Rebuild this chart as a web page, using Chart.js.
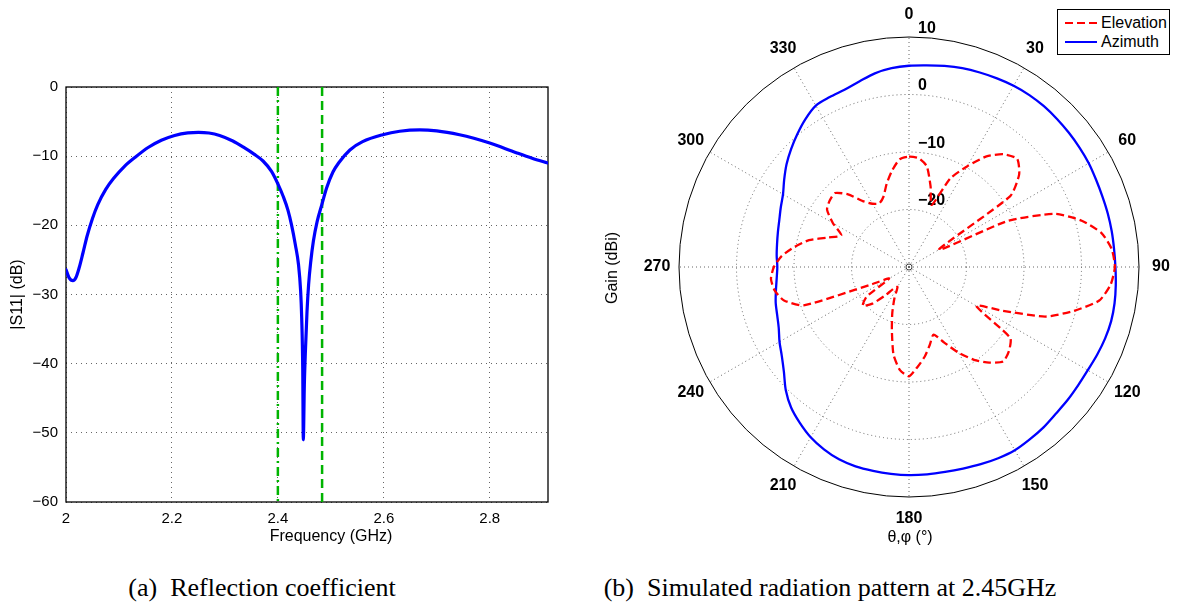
<!DOCTYPE html>
<html>
<head>
<meta charset="utf-8">
<script src="https://cdn.jsdelivr.net/npm/chart.js@4.4.1/dist/chart.umd.min.js"></script>
<style>
  body { margin: 0; background: #fff; width: 1180px; height: 605px; position: relative; overflow: hidden;
         font-family: "Liberation Sans", Arial, sans-serif; color: #000; }
  #s11Box { position: absolute; left: 0; top: 60px; width: 570px; height: 500px; }
  #patternBox { position: absolute; left: 600px; top: 0; width: 580px; height: 560px; }
  .axisTitle { position: absolute; font-size: 16px; white-space: nowrap; transform: translate(-50%, -50%); }
  #gainTitle { transform: translate(-50%, -50%) rotate(-90deg); }
  .caption { position: absolute; top: 575px; font-family: "Liberation Serif", serif; font-size: 26px;
             line-height: 26px; white-space: nowrap; transform: translateX(-50%); }
  #legend { position: absolute; left: 1057px; top: 9px; width: 111px; height: 44px; border: 1px solid #000;
            background: #fff; font-size: 16px; }
  #legend .row { position: absolute; left: 6px; height: 20px; display: flex; align-items: center; }
  #legend svg { margin-right: 3px; }
</style>
</head>
<body>
<div id="s11Box"><canvas id="s11Chart"></canvas></div>
<div id="patternBox"><canvas id="patternChart"></canvas></div>
<div class="axisTitle" style="left:331px;top:536px">Frequency (GHz)</div>
<div class="axisTitle" id="gainTitle" style="left:612px;top:268px">Gain (dBi)</div>
<div class="axisTitle" style="left:910px;top:537px">θ,φ (°)</div>
<div id="legend"></div>
<div class="caption" style="left:262px">(a)&nbsp; Reflection coefficient</div>
<div class="caption" style="left:830px">(b)&nbsp; Simulated radiation pattern at 2.45GHz</div>

<script>
// Reflection coefficient (left)
const freqGHz = [2.000, 2.006, 2.013, 2.019, 2.025, 2.032, 2.040, 2.050, 2.060, 2.075, 2.090, 2.110, 2.130,
  2.155, 2.180, 2.205, 2.230, 2.250, 2.270, 2.290, 2.315, 2.335, 2.355, 2.372, 2.388, 2.400, 2.410, 2.419,
  2.426, 2.433, 2.439, 2.443, 2.445, 2.447, 2.448, 2.450, 2.452, 2.455, 2.458, 2.462, 2.467, 2.474, 2.483,
  2.492, 2.504, 2.515, 2.536, 2.560, 2.598, 2.630, 2.668, 2.700, 2.743, 2.770, 2.800, 2.850, 2.880, 2.910];
const s11dB = [-26.4, -27.6, -28.0, -27.5, -26.1, -24.0, -21.5, -19.0, -17.0, -14.8, -13.2, -11.5, -10.2,
  -8.75, -7.7, -7.0, -6.62, -6.55, -6.65, -7.0, -7.8, -8.7, -9.7, -10.7, -12.2, -14.0, -15.8, -17.8,
  -20.0, -22.8, -25.7, -29.5, -33.4, -41.0, -51.0, -43.0, -38.2, -32.5, -28.6, -25.3, -22.3, -19.5, -17.0,
  -14.6, -12.3, -10.95, -9.1, -7.9, -6.9, -6.4, -6.2, -6.35, -6.9, -7.4, -8.1, -9.5, -10.3, -11.0];
const bandEdgesGHz = [2.4, 2.4835];
const s11Range = [-60, 0];

// Radiation pattern (right), one value every 5 degrees from 0 to 355
const elevationDBi = [-10.8, -11.0, -12.2, -15.5, -18.5, -13.0, -9.8, -6.5, -4.4, -3.4, -5.0, -8.5,
  -24.0, -11.0, -3.0, 1.1, 4.0, 5.4, 5.8, 5.2, 3.6, -0.4, -4.8, -12.0,
  -16.5, -8.5, -7.3, -6.8, -8.3, -10.3, -12.8, -15.5, -17.5, -16.0, -14.2, -12.6,
  -11.0, -12.0, -14.5, -18.5, -21.5, -24.0, -26.0, -25.5, -23.5, -21.0, -19.5, -21.0,
  -26.0, -23.0, -10.5, -7.5, -6.3, -5.9, -6.5, -7.8, -9.8, -12.0, -15.0, -17.0,
  -14.7, -12.6, -12.0, -11.8, -13.5, -16.0, -17.3, -17.8, -17.0, -15.0, -13.0, -11.2];
const azimuthDBi = [5.0, 5.2, 5.5, 5.8, 6.0, 6.2, 6.4, 6.5, 6.5, 6.4, 6.3, 6.2,
  6.1, 5.9, 5.8, 5.8, 5.8, 5.8, 5.9, 6.1, 6.3, 6.4, 6.3, 6.1,
  5.9, 5.9, 6.0, 6.1, 6.4, 6.6, 6.8, 6.7, 6.5, 6.3, 6.2, 6.2,
  6.2, 6.1, 6.0, 5.9, 5.6, 5.0, 4.2, 3.1, 1.9, 0.3, -1.6, -3.0,
  -4.0, -5.0, -5.6, -6.0, -6.5, -6.9, -7.1, -6.9, -6.7, -6.4, -6.0, -5.4,
  -4.7, -3.5, -2.2, -1.0, 0.2, 1.4, 2.4, 2.6, 2.8, 3.4, 4.2, 4.7];
const angleDeg = Array.from({ length: 72 }, (_, i) => i * 5);
const angleTickLabels = ['0', '30', '60', '90', '120', '150', '180', '210', '240', '270', '300', '330'];
const gainTicks = [-20, -10, 0, 10];
const gainRange = [-30, 10];

Chart.defaults.font.family = '"Liberation Sans", Arial, sans-serif';
Chart.defaults.color = '#000';

const minus = v => String(v).replace('-', '\u2212');

const frame = {
  id: 'frame',
  beforeDatasetsDraw(chart) {
    const a = chart.chartArea, ctx = chart.ctx;
    ctx.save();
    ctx.strokeStyle = '#000';
    ctx.lineWidth = 1.3;
    ctx.strokeRect(a.left, a.top, a.right - a.left, a.bottom - a.top);
    ctx.restore();
  }
};

new Chart(document.getElementById('s11Chart'), {
  type: 'line',
  data: {
    datasets: [
      {
        label: '|S11|',
        data: freqGHz.map((f, i) => ({ x: f, y: s11dB[i] })),
        borderColor: '#0000ff',
        borderWidth: 3.2,
        borderJoinStyle: 'round',
        borderCapStyle: 'round',
        cubicInterpolationMode: 'monotone',
        pointRadius: 0,
        fill: false
      },
      {
        label: 'band low',
        data: [{ x: bandEdgesGHz[0], y: s11Range[1] }, { x: bandEdgesGHz[0], y: s11Range[0] }],
        borderColor: '#00b400',
        borderWidth: 2.5,
        borderDash: [9, 4, 2, 4],
        pointRadius: 0
      },
      {
        label: 'band high',
        data: [{ x: bandEdgesGHz[1], y: s11Range[1] }, { x: bandEdgesGHz[1], y: s11Range[0] }],
        borderColor: '#00b400',
        borderWidth: 2.5,
        borderDash: [9, 5],
        pointRadius: 0
      }
    ]
  },
  options: {
    responsive: true,
    maintainAspectRatio: false,
    animation: false,
    layout: { padding: { left: 0, right: 22, top: 27, bottom: 0 } },
    plugins: { legend: { display: false }, tooltip: { enabled: false } },
    scales: {
      x: {
        type: 'linear',
        min: 2,
        max: 2.91,
        afterFit: s => { s.height = 58; },
        border: { display: false, dash: [1, 4] },
        grid: { color: '#666', lineWidth: 1, drawTicks: false },
        ticks: {
          stepSize: 0.2,
          includeBounds: false,
          padding: 8,
          font: { size: 15 },
          callback: v => (Math.abs(v - 2) < 1e-9 ? '2' : Number(v).toFixed(1))
        }
      },
      y: {
        min: s11Range[0],
        max: s11Range[1],
        afterFit: s => { s.width = 66; },
        border: { display: false, dash: [1, 4] },
        grid: { color: '#666', lineWidth: 1, drawTicks: false },
        ticks: { stepSize: 10, padding: 8, font: { size: 15 }, callback: v => minus(v) },
        title: { display: true, text: '|S11| (dB)', font: { size: 16 }, padding: { top: 8, bottom: 0 } }
      }
    }
  },
  plugins: [frame]
});

const polarText = {
  id: 'polarText',
  beforeDatasetsDraw(chart) {
    const r = chart.scales.r, ctx = chart.ctx;
    ctx.save();
    ctx.fillStyle = '#000';
    ctx.font = 'bold 16px "Liberation Sans", Arial, sans-serif';
    ctx.textAlign = 'center';
    ctx.textBaseline = 'middle';
    angleTickLabels.forEach((txt, k) => {
      const p = r.getPointPosition(k * 6, r.drawingArea + 22);
      ctx.fillText(txt, p.x, p.y);
    });
    ctx.textAlign = 'left';
    gainTicks.forEach(v => {
      const d = r.getDistanceFromCenterForValue(v);
      ctx.fillText(minus(v), r.xCenter + 9, r.yCenter - d - 8.5);
    });
    ctx.beginPath();
    ctx.arc(r.xCenter, r.yCenter, 3, 0, 2 * Math.PI);
    ctx.strokeStyle = '#444';
    ctx.lineWidth = 1;
    ctx.stroke();
    ctx.restore();
  }
};

const pattern = new Chart(document.getElementById('patternChart'), {
  type: 'radar',
  data: {
    labels: angleDeg,
    datasets: [
      {
        label: 'Elevation',
        data: elevationDBi,
        borderColor: '#ff0000',
        borderWidth: 2.3,
        borderDash: [8, 4],
        tension: 0.2,
        pointRadius: 0,
        fill: false
      },
      {
        label: 'Azimuth',
        data: azimuthDBi,
        borderColor: '#0000ff',
        borderWidth: 2.3,
        tension: 0.3,
        pointRadius: 0,
        fill: false
      }
    ]
  },
  options: {
    responsive: true,
    maintainAspectRatio: false,
    animation: false,
    layout: { padding: { left: 79, right: 41, top: 37, bottom: 63 } },
    plugins: { legend: { display: false }, tooltip: { enabled: false } },
    scales: {
      r: {
        min: gainRange[0],
        max: gainRange[1],
        ticks: { display: false, stepSize: 10 },
        pointLabels: { display: false },
        grid: {
          circular: true,
          lineWidth: 1,
          color: c => (c.tick && c.tick.value === gainRange[1] ? '#000' : '#666')
        },
        border: { dash: c => (c.tick && c.tick.value === gainRange[1] ? [] : [1, 3]) },
        angleLines: {
          color: '#666',
          lineWidth: c => (c.index % 6 === 0 ? 1 : 0),
          borderDash: [1, 3]
        }
      }
    }
  },
  plugins: [polarText]
});

// HTML legend built from the radar datasets
const legendEl = document.getElementById('legend');
pattern.data.datasets.forEach((ds, i) => {
  const row = document.createElement('div');
  row.className = 'row';
  row.style.top = (3 + i * 19) + 'px';
  const dash = (ds.borderDash || []).join(' ');
  row.innerHTML = '<svg width="34" height="6"><line x1="1" y1="3" x2="33" y2="3" stroke="' + ds.borderColor +
    '" stroke-width="2" stroke-dasharray="' + dash + '"/></svg><span>' + ds.label + '</span>';
  legendEl.appendChild(row);
});
</script>
</body>
</html>
